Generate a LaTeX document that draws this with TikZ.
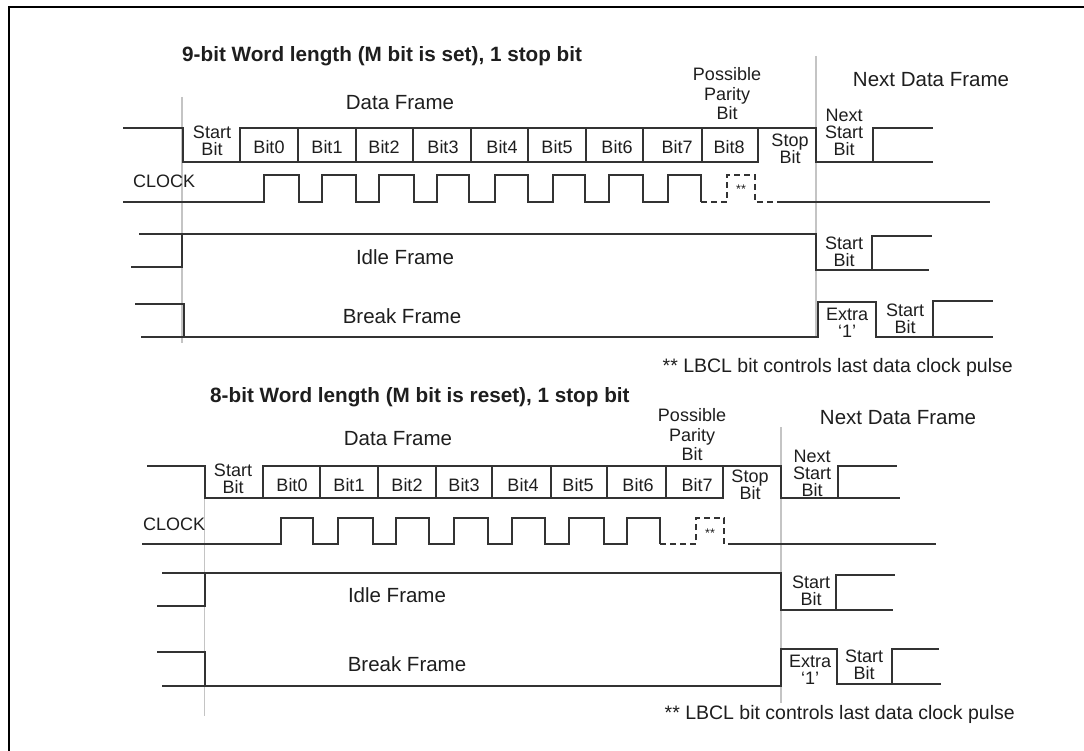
\documentclass[tikz,border=0pt]{standalone}
\usepackage{fontspec}
\setmainfont{Liberation Sans}
\definecolor{ink}{HTML}{1E1E1E}
\definecolor{wire}{HTML}{333333}
\definecolor{guidegray}{HTML}{C4C4C4}
\tikzset{
  sig/.style={draw=wire, line width=1.3pt, line join=miter},
  dsh/.style={sig, dash pattern=on 6pt off 4pt},
  guide/.style={draw=guidegray, line width=1.6pt},
  lbl/.style={font=\fontsize{18}{17}\selectfont, align=center, inner sep=0pt, text=ink},
  plbl/.style={font=\fontsize{18}{19.5}\selectfont, align=center, inner sep=0pt, text=ink},
  big/.style={font=\fontsize{20.5}{22}\selectfont, inner sep=0pt, text=ink},
  ttl/.style={font=\bfseries\fontsize{20.7}{22}\selectfont, inner sep=0pt, text=ink, anchor=west},
  note/.style={font=\fontsize{19.5}{21}\selectfont, inner sep=0pt, text=ink, anchor=east},
  star/.style={font=\fontsize{12.5}{12.5}\selectfont, inner sep=0pt, text=ink},
}
\begin{document}
\begin{tikzpicture}[x=1pt,y=-1pt]
\useasboundingbox (0,0) rectangle (1084,751);
\fill[white] (0,0) rectangle (1084,751);
% outer frame
\draw[line width=2.2pt] (8.7,760) -- (8.7,6.7) -- (1090,6.7);

% ================= TOP DIAGRAM =================
\draw[guide] (182,97) -- (182,343);
\draw[guide] (816,56) -- (816,337);

% data row
\draw[sig] (123,128) -- (183,128) -- (183,162) -- (758,162) -- (758,128);
\draw[sig] (240,162) -- (240,128) -- (816,128) -- (816,162) -- (933,162);
\draw[sig] (873,162) -- (873,128) -- (933,128);
\foreach \x in {298,356,413,471,528,586,643,702}
  \draw[sig] (\x,128) -- (\x,162);

% clock
\draw[sig] (123,202) -- (264,202) -- (264,175) -- (299,175) -- (299,202)
  -- (322,202) -- (322,175) -- (356,175) -- (356,202)
  -- (379,202) -- (379,175) -- (414,175) -- (414,202)
  -- (437,202) -- (437,175) -- (469,175) -- (469,202)
  -- (495,202) -- (495,175) -- (528,175) -- (528,202)
  -- (553,202) -- (553,175) -- (585,175) -- (585,202)
  -- (609,202) -- (609,175) -- (643,175) -- (643,202)
  -- (668,202) -- (668,175) -- (701,175) -- (701,202);
\draw[dsh] (701,202) -- (727,202) -- (727,175) -- (755,175) -- (755,202) -- (777,202);
\draw[sig] (777,202) -- (990,202);

% idle frame
\draw[sig] (131,267) -- (182,267) -- (182,234);
\draw[sig] (139,234) -- (816,234) -- (816,270) -- (929,270);
\draw[sig] (872,270) -- (872,236) -- (932,236);

% break frame
\draw[sig] (135,304) -- (184,304) -- (184,337);
\draw[sig] (141,337) -- (818,337) -- (818,302) -- (876,302) -- (876,337) -- (993,337);
\draw[sig] (933,337) -- (933,301) -- (993,301);

% labels
\node[ttl] (t1) at (182,56) {9-bit Word length (M bit is set), 1 stop bit};
\node[big] (df1) at (400,103) {Data Frame};
\node[plbl] (pp1) at (727,94) {Possible\\Parity\\Bit};
\node[big] (nd1) at (931,80) {Next Data Frame};
\node[lbl] (sb1) at (212,141) {Start\\Bit};
\foreach \x/\n in {269/0,327/1,384/2,443/3,502/4,557/5,617/6,677/7,729/8}
  \node[lbl] (b1\n) at (\x,147) {Bit\n};
\node[lbl] (st1) at (790,149) {Stop\\Bit};
\node[lbl] (ns1) at (844,132) {Next\\Start\\Bit};
\node[lbl, anchor=west] (ck1) at (133,181) {CLOCK};
\node[star] (ss1) at (741,189) {**};
\node[big] (if1) at (405,257) {Idle Frame};
\node[big] (bf1) at (402,316) {Break Frame};
\node[lbl] (isb1) at (844,252) {Start\\Bit};
\node[lbl] (ex1) at (847,323) {Extra\\‘1’};
\node[lbl] (bsb1) at (905,319) {Start\\Bit};
\node[note] (fn1) at (1013,367) {** LBCL bit controls last data clock pulse};

% ================= BOTTOM DIAGRAM =================
\draw[guide] (204.5,466) -- (204.5,716);
\draw[guide] (781,427) -- (781,703);

% data row
\draw[sig] (147,466) -- (205,466) -- (205,498) -- (723,498) -- (723,466);
\draw[sig] (263,498) -- (263,466) -- (781,466) -- (781,498) -- (900,498);
\draw[sig] (838,498) -- (838,466) -- (897,466);
\foreach \x in {320,378,436,492,551,607,666}
  \draw[sig] (\x,466) -- (\x,498);

% clock
\draw[sig] (142,544) -- (281,544) -- (281,518) -- (313,518) -- (313,544)
  -- (338,544) -- (338,518) -- (373,518) -- (373,544)
  -- (396,544) -- (396,518) -- (429,518) -- (429,544)
  -- (454,544) -- (454,518) -- (488,518) -- (488,544)
  -- (512,544) -- (512,518) -- (545,518) -- (545,544)
  -- (569,544) -- (569,518) -- (604,518) -- (604,544)
  -- (627,544) -- (627,518) -- (660,518) -- (660,544);
\draw[dsh] (660,544) -- (696,544) -- (696,518) -- (724,518) -- (724,544) -- (732,544);
\draw[sig] (732,544) -- (936,544);

% idle frame
\draw[sig] (157,606) -- (205,606) -- (205,573);
\draw[sig] (162,573) -- (781,573) -- (781,610) -- (893,610);
\draw[sig] (836,610) -- (836,575) -- (895,575);

% break frame
\draw[sig] (157,652) -- (205,652) -- (205,686);
\draw[sig] (162,686) -- (781,686) -- (781,649) -- (837,649) -- (837,684) -- (941,684);
\draw[sig] (892,684) -- (892,649) -- (939,649);

% labels
\node[ttl] (t2) at (210,397) {8-bit Word length (M bit is reset), 1 stop bit};
\node[big] (df2) at (398,439) {Data Frame};
\node[plbl] (pp2) at (692,435) {Possible\\Parity\\Bit};
\node[big] (nd2) at (898,418) {Next Data Frame};
\node[lbl] (sb2) at (233,479) {Start\\Bit};
\foreach \x/\n in {292/0,349/1,407/2,464/3,523/4,578/5,638/6,697/7}
  \node[lbl] (b2\n) at (\x,485) {Bit\n};
\node[lbl] (st2) at (750,485) {Stop\\Bit};
\node[lbl] (ns2) at (812,473) {Next\\Start\\Bit};
\node[lbl, anchor=west] (ck2) at (143,524) {CLOCK};
\node[star] (ss2) at (710,533) {**};
\node[big] (if2) at (397,595) {Idle Frame};
\node[big] (bf2) at (407,664) {Break Frame};
\node[lbl] (isb2) at (811,591) {Start\\Bit};
\node[lbl] (ex2) at (810,670) {Extra\\‘1’};
\node[lbl] (bsb2) at (864,665) {Start\\Bit};
\node[note] (fn2) at (1015,714) {** LBCL bit controls last data clock pulse};
\end{tikzpicture}
\end{document}
